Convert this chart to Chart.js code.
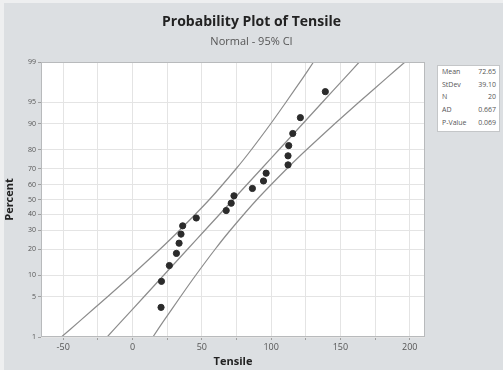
<!DOCTYPE html>
<html>
<head>
<meta charset="utf-8">
<script src="https://cdn.jsdelivr.net/npm/chart.js@4/dist/chart.umd.min.js"></script>
<style>
  html, body { margin: 0; padding: 0; background: #dcdfe2; }
  #wrap { position: relative; width: 503px; height: 370px; }
  canvas { display: block; }
  #stats {
    position: absolute; left: 437px; top: 65px; width: 61px; height: 65px;
    background: #fff; border: 1px solid #c4c6c8;
    font-family: "Open Sans", sans-serif; font-size: 7px; color: #555;
    box-sizing: content-box; padding: 0;
  }
  #stats .row { display: flex; justify-content: space-between; height: 12.7px; line-height: 12.7px; padding: 0 3px 0 4px; }
</style>
</head>
<body>
<div id="wrap">
  <canvas id="c" width="503" height="370"></canvas>
  <div id="stats"></div>
</div>
<script>
// ---- data ----
const tensile = [20.6, 20.9, 26.6, 31.7, 33.6, 35.0, 36.2, 46.0, 67.6, 71.2, 73.2, 86.5, 94.5, 96.4, 112.2, 112.2, 112.7, 115.6, 121.1, 139.1];
const percentRank = [3.4, 8.3, 13.2, 18.1, 23.0, 27.9, 32.8, 37.7, 42.6, 47.5, 52.5, 57.4, 62.3, 67.2, 72.1, 77.0, 81.9, 86.8, 91.7, 96.6];

const linePercents = [1, 2, 5, 10, 20, 30, 50, 70, 80, 90, 95, 98, 99];
const fitLine = [-18.3, -7.7, 8.3, 22.5, 39.7, 52.1, 72.65, 93.2, 105.6, 122.8, 137.0, 153.0, 163.6];
const lowerCI = [-51.3, -37.9, -18.0, -0.6, 19.8, 33.8, 55.5, 74.9, 85.7, 99.7, 110.7, 122.8, 130.6];
const upperCI = [14.7, 22.5, 34.6, 45.6, 59.6, 70.4, 89.8, 111.5, 125.5, 145.9, 163.3, 183.2, 196.6];

const percentTicks = [1, 5, 10, 20, 30, 40, 50, 60, 70, 80, 90, 95, 99];
const xTicks = [-50, -25, 0, 25, 50, 75, 100, 125, 150, 175, 200];

const statLabels = ["Mean", "StDev", "N", "AD", "P-Value"];
const statValues = ["72.65", "39.10", "20", "0.667", "0.069"];

// ---- normal probability scale transform (percent -> z) ----
function probit(pct) {
  const p = pct / 100;
  const a = [-39.69683028665376, 220.9460984245205, -275.9285104469687, 138.3577518672690, -30.66479806614716, 2.506628277459239];
  const b = [-54.47609879822406, 161.5858368580409, -155.6989798598866, 66.80131188771972, -13.28068155288572];
  const c = [-0.007784894002430293, -0.3223964580411365, -2.400758277161838, -2.549732539343734, 4.374664141464968, 2.938163982698783];
  const d = [0.007784695709041462, 0.3224671290700398, 2.445134137142996, 3.754408661907416];
  const pl = 0.02425, ph = 1 - pl;
  let q, r;
  if (p < pl) {
    q = Math.sqrt(-2 * Math.log(p));
    return (((((c[0]*q+c[1])*q+c[2])*q+c[3])*q+c[4])*q+c[5]) / ((((d[0]*q+d[1])*q+d[2])*q+d[3])*q+1);
  } else if (p <= ph) {
    q = p - 0.5; r = q * q;
    return (((((a[0]*r+a[1])*r+a[2])*r+a[3])*r+a[4])*r+a[5])*q / (((((b[0]*r+b[1])*r+b[2])*r+b[3])*r+b[4])*r+1);
  } else {
    q = Math.sqrt(-2 * Math.log(1 - p));
    return -(((((c[0]*q+c[1])*q+c[2])*q+c[3])*q+c[4])*q+c[5]) / ((((d[0]*q+d[1])*q+d[2])*q+d[3])*q+1);
  }
}

// stats box
document.getElementById('stats').innerHTML = statLabels.map((l, i) =>
  '<div class="row"><span>' + l + '</span><span>' + statValues[i] + '</span></div>').join('');

const toPts = (xs, ps) => xs.map((x, i) => ({ x: x, y: probit(ps[i]) }));

const bgPlugin = {
  id: 'bg',
  beforeDraw(chart) {
    const { ctx, chartArea: a } = chart;
    ctx.save();
    ctx.fillStyle = '#dcdfe2';
    ctx.fillRect(0, 0, chart.width, chart.height);
    ctx.fillStyle = '#eeeff0';
    ctx.fillRect(0, 0, chart.width, 3);
    ctx.fillRect(0, 0, 4, chart.height);
    ctx.fillStyle = '#ffffff';
    ctx.fillRect(a.left, a.top, a.right - a.left, a.bottom - a.top);
    ctx.restore();
  },
  afterDraw(chart) {
    const { ctx, chartArea: a } = chart;
    ctx.save();
    ctx.strokeStyle = '#b8babc';
    ctx.lineWidth = 1;
    ctx.strokeRect(a.left + 0.5, a.top + 0.5, a.right - a.left - 1, a.bottom - a.top - 1);
    ctx.restore();
  }
};

const lineStyle = { showLine: true, borderColor: '#8c8c8c', borderWidth: 1.2, pointRadius: 0, tension: 0.2, fill: false };

new Chart(document.getElementById('c'), {
  type: 'scatter',
  data: {
    datasets: [
      { label: 'Tensile', data: toPts(tensile, percentRank), backgroundColor: '#2b2b2b', borderColor: '#2b2b2b', pointRadius: 3.1, order: 0 },
      Object.assign({ label: 'Fit', data: toPts(fitLine, linePercents), order: 1 }, lineStyle),
      Object.assign({ label: 'Lower CI', data: toPts(lowerCI, linePercents), order: 1 }, lineStyle),
      Object.assign({ label: 'Upper CI', data: toPts(upperCI, linePercents), order: 1 }, lineStyle)
    ]
  },
  options: {
    responsive: false,
    animation: false,
    layout: { padding: 0 },
    plugins: {
      legend: { display: false },
      tooltip: { enabled: false },
      title: {
        display: true, text: 'Probability Plot of Tensile', color: '#222',
        font: { family: 'Open Sans', size: 14, weight: 'bold', lineHeight: 1.2 },
        padding: { top: 14, bottom: 2 }
      },
      subtitle: {
        display: true, text: 'Normal - 95% CI', color: '#555',
        font: { family: 'Open Sans', size: 11, lineHeight: 1.2 },
        padding: { top: 2, bottom: 14 }
      }
    },
    scales: {
      x: {
        type: 'linear', min: -66, max: 211,
        afterBuildTicks: s => { s.ticks = xTicks.map(v => ({ value: v })); },
        afterFit: s => { s.height = 33; },
        grid: { color: '#e4e4e4', tickColor: '#a0a0a0', tickLength: 3, drawTicks: true },
        border: { display: false },
        ticks: {
          color: '#555', font: { family: 'Open Sans', size: 9 }, padding: 2, maxRotation: 0,
          callback: v => (v % 50 === 0 ? String(v) : '')
        },
        title: {
          display: true, text: 'Tensile', color: '#222',
          font: { family: 'Open Sans', size: 11, weight: 'bold', lineHeight: 1.2 },
          padding: { top: 0, bottom: 2 }
        }
      },
      y: {
        type: 'linear', min: probit(1), max: probit(99),
        afterBuildTicks: s => { s.ticks = percentTicks.map(p => ({ value: probit(p) })); },
        afterFit: s => { s.width = 41; },
        grid: { color: '#e4e4e4', tickColor: '#a0a0a0', tickLength: 3, drawTicks: true },
        border: { display: false },
        ticks: {
          color: '#555', font: { family: 'Open Sans', size: 7 }, padding: 2,
          callback: (v, i) => String(percentTicks[i])
        },
        title: {
          display: true, text: 'Percent', color: '#222',
          font: { family: 'Open Sans', size: 11, weight: 'bold', lineHeight: 1.2 },
          padding: { top: 3, bottom: 0 }
        }
      },
      yRight: {
        type: 'linear', position: 'right', min: 0, max: 1,
        grid: { display: false, drawTicks: false },
        border: { display: false },
        ticks: { display: false },
        afterFit: s => { s.width = 78; }
      }
    }
  },
  plugins: [bgPlugin]
});
</script>
</body>
</html>
